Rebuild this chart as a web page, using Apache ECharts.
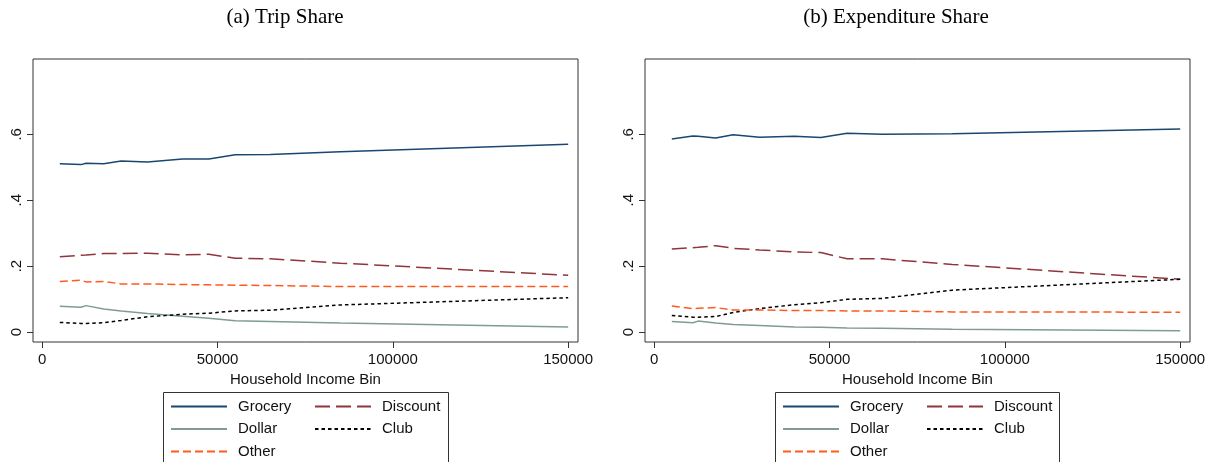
<!DOCTYPE html>
<html>
<head>
<meta charset="utf-8">
<script src="https://cdn.jsdelivr.net/npm/echarts@6/dist/echarts.min.js"></script>
<style>
html,body{margin:0;padding:0;background:#fff;}
#chart{width:1221px;height:462px;}
</style>
</head>
<body>
<div id="chart"></div>
<script>
// Household income bins (x values)
const incomeBins = [5000, 11000, 12500, 17500, 22500, 30000, 40000, 47500, 55000, 65000, 85000, 150000];
const xTicks = [0, 50000, 100000, 150000];
const yTicks = [0, 0.2, 0.4, 0.6];
const seriesNames = ['Grocery', 'Discount', 'Dollar', 'Club', 'Other'];

// (a) Trip Share
const tripGrocery  = [0.511, 0.508, 0.512, 0.511, 0.519, 0.516, 0.525, 0.525, 0.538, 0.539, 0.547, 0.570];
const tripDiscount = [0.228, 0.233, 0.234, 0.238, 0.238, 0.239, 0.234, 0.236, 0.224, 0.222, 0.209, 0.172];
const tripDollar   = [0.078, 0.075, 0.080, 0.070, 0.064, 0.056, 0.048, 0.042, 0.034, 0.032, 0.027, 0.015];
const tripClub     = [0.029, 0.026, 0.026, 0.028, 0.035, 0.046, 0.054, 0.057, 0.064, 0.066, 0.082, 0.104];
const tripOther    = [0.153, 0.157, 0.152, 0.153, 0.146, 0.146, 0.144, 0.143, 0.142, 0.141, 0.138, 0.138];

// (b) Expenditure Share
const expGrocery  = [0.586, 0.595, 0.594, 0.589, 0.599, 0.591, 0.594, 0.590, 0.603, 0.600, 0.602, 0.616];
const expDiscount = [0.252, 0.256, 0.257, 0.262, 0.254, 0.249, 0.243, 0.241, 0.222, 0.222, 0.205, 0.160];
const expDollar   = [0.032, 0.028, 0.033, 0.027, 0.023, 0.020, 0.015, 0.014, 0.012, 0.011, 0.008, 0.004];
const expClub     = [0.050, 0.045, 0.045, 0.047, 0.059, 0.071, 0.083, 0.089, 0.099, 0.102, 0.127, 0.160];
const expOther    = [0.079, 0.071, 0.072, 0.074, 0.067, 0.067, 0.065, 0.065, 0.064, 0.064, 0.061, 0.060];

const styles = {
  Grocery:  {color: '#1a476f', type: 'solid'},
  Discount: {color: '#90353b', type: [15, 6]},
  Dollar:   {color: '#7f9c92', type: 'solid'},
  Club:     {color: '#000000', type: [3.5, 3]},
  Other:    {color: '#ff5a1f', type: [8, 4]}
};

function pairs(vals){ return incomeBins.map((x,i)=>[x, vals[i]]); }

const panels = [
  {Grocery: tripGrocery, Discount: tripDiscount, Dollar: tripDollar, Club: tripClub, Other: tripOther},
  {Grocery: expGrocery, Discount: expDiscount, Dollar: expDollar, Club: expClub, Other: expOther}
];

const series = [];
panels.forEach((p, gi) => {
  seriesNames.forEach(n => {
    series.push({
      name: n, type: 'line', xAxisIndex: gi, yAxisIndex: gi,
      data: pairs(p[n]), symbol: 'none', silent: true, animation: false,
      lineStyle: {color: styles[n].color, width: 1.5, type: styles[n].type},
      itemStyle: {color: styles[n].color}
    });
  });
});

const font = 'Liberation Sans, Arial, sans-serif';

function xAxis(gi){
  return {
    type: 'value', gridIndex: gi, min: -2650, max: 152800,
    name: 'Household Income Bin', nameLocation: 'middle', nameGap: 25,
    nameTextStyle: {fontFamily: font, fontSize: 15, color: '#111'},
    axisLine: {show: false, onZero: false},
    axisTick: {show: true, length: 6, customValues: xTicks, lineStyle: {color: '#333'}},
    axisLabel: {customValues: xTicks, fontFamily: font, fontSize: 15, color: '#111', margin: 10,
      formatter: v => String(v)},
    splitLine: {show: false}
  };
}
function yAxis(gi){
  return {
    type: 'value', gridIndex: gi, min: -0.0304, max: 0.8286,
    axisLine: {show: false, onZero: false},
    axisTick: {show: true, length: 6, customValues: yTicks, lineStyle: {color: '#333'}},
    axisLabel: {customValues: yTicks, rotate: 90, fontFamily: font, fontSize: 15, color: '#111', margin: 9,
      formatter: v => v === 0 ? '0' : String(Math.round(v*10)/10).replace(/^0/, '')},
    splitLine: {show: false}
  };
}

function legendCol(left, names, top){
  return {
    data: names, orient: 'vertical', left: left, top: top, padding: 0,
    itemWidth: 56, itemHeight: 14, itemGap: 7.5, selectedMode: false,
    itemStyle: {opacity: 0},
    textStyle: {fontFamily: font, fontSize: 15, color: '#111', padding: [0,0,0,6]}
  };
}

const titleFont = '21px "Liberation Serif", "Times New Roman", serif';

const option = {
  animation: false,
  backgroundColor: '#fff',
  grid: [
    {left: 33, top: 59, width: 545, height: 283, show: true, borderColor: '#333', borderWidth: 1, backgroundColor: '#fff'},
    {left: 645, top: 59, width: 545, height: 283, show: true, borderColor: '#333', borderWidth: 1, backgroundColor: '#fff'}
  ],
  xAxis: [xAxis(0), xAxis(1)],
  yAxis: [yAxis(0), yAxis(1)],
  legend: [
    legendCol(170, ['Grocery', 'Dollar', 'Other'], 399),
    legendCol(314, ['Discount', 'Club'], 399),
    legendCol(782, ['Grocery', 'Dollar', 'Other'], 399),
    legendCol(926, ['Discount', 'Club'], 399)
  ],
  graphic: [
    {type: 'text', x: 285, y: 7, style: {text: '(a) Trip Share', font: titleFont, fill: '#000', textAlign: 'center'}},
    {type: 'text', x: 896, y: 7, style: {text: '(b) Expenditure Share', font: titleFont, fill: '#000', textAlign: 'center'}},
    {type: 'rect', shape: {x: 163.5, y: 392.5, width: 285, height: 80}, style: {fill: 'none', stroke: '#333', lineWidth: 1}, z: -1},
    {type: 'rect', shape: {x: 775.5, y: 392.5, width: 284, height: 80}, style: {fill: 'none', stroke: '#333', lineWidth: 1}, z: -1}
  ],
  series: series
};

const chart = echarts.init(document.getElementById('chart'), null, {renderer: 'canvas'});
chart.setOption(option);
</script>
</body>
</html>
